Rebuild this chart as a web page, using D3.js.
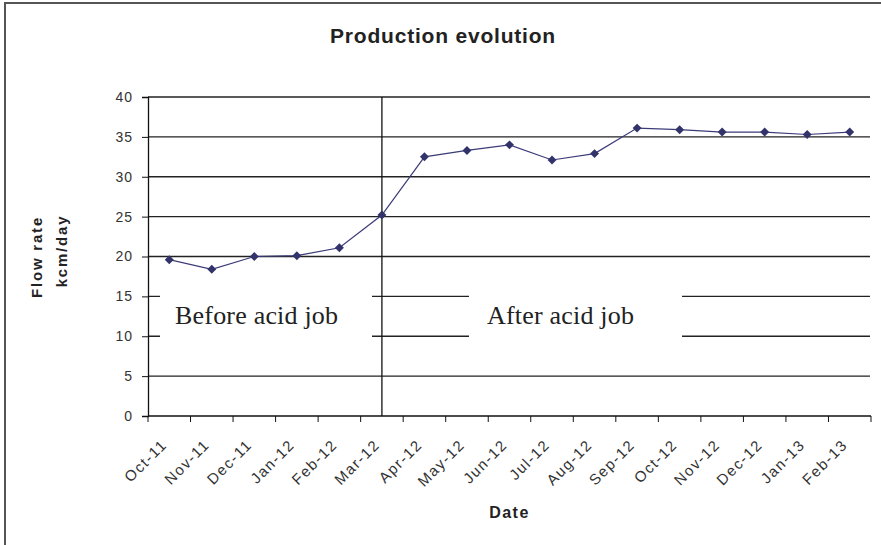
<!DOCTYPE html>
<html lang="en">
<head>
<meta charset="UTF-8">
<title>Production evolution</title>
<script src="https://cdn.jsdelivr.net/npm/d3@7"></script>
<style>
    body { margin: 0; background: #fff; }
    svg { display: block; }
</style>
</head>
<body>
<div id="chart"></div>
<script>
    // data
    const months = ["Oct-11", "Nov-11", "Dec-11", "Jan-12", "Feb-12", "Mar-12", "Apr-12", "May-12", "Jun-12",
        "Jul-12", "Aug-12", "Sep-12", "Oct-12", "Nov-12", "Dec-12", "Jan-13", "Feb-13"];
    const flowRate = [19.6, 18.4, 20.0, 20.1, 21.1, 25.2, 32.5, 33.3, 34.0, 32.1, 32.9, 36.1, 35.9, 35.6, 35.6, 35.3, 35.6];
    const yTicks = [0, 5, 10, 15, 20, 25, 30, 35, 40];
    const acidJobMonth = "Mar-12";
    const noteTexts = ["Before acid job", "After acid job"];

    const W = 881, H = 545;
    const plotLeft = 148, plotRight = 871, plotTop = 97, plotBottom = 416;

    const svg = d3.select("#chart").append("svg").attr("width", W).attr("height", H);

    // outer frame (only left and top edges show)
    svg.append("rect")
        .attr("x", 5).attr("y", 3).attr("width", W).attr("height", H)
        .attr("fill", "#fff").attr("stroke", "#555").attr("stroke-width", 2);

    const x = d3.scaleBand().domain(months).range([plotLeft, plotRight]);
    const y = d3.scaleLinear().domain([0, 40]).range([plotBottom, plotTop]);
    const cx = m => x(m) + x.bandwidth() / 2;

    // horizontal gridlines
    svg.append("g").selectAll("line")
        .data(yTicks.filter(t => t > 0))
        .join("line")
        .attr("x1", plotLeft).attr("x2", plotRight - 1)
        .attr("y1", d => y(d)).attr("y2", d => y(d))
        .attr("stroke", "#222").attr("stroke-width", 1.3);

    // white label boxes covering the gridlines
    const notes = [
        {text: noteTexts[0], x0: 160, x1: 372, tx: 175},
        {text: noteTexts[1], x0: 469, x1: 682, tx: 487}
    ];
    const noteG = svg.append("g");
    noteG.selectAll("rect").data(notes).join("rect")
        .attr("x", d => d.x0).attr("width", d => d.x1 - d.x0)
        .attr("y", y(16.5)).attr("height", y(8.5) - y(16.5))
        .attr("fill", "#fff");
    noteG.selectAll("text").data(notes).join("text")
        .attr("x", d => d.tx).attr("y", 324)
        .attr("font-family", "'Liberation Serif', 'Times New Roman', serif")
        .attr("font-size", 26).attr("letter-spacing", 0.2).attr("fill", "#222")
        .text(d => d.text);

    // acid job marker line
    svg.append("line")
        .attr("x1", cx(acidJobMonth)).attr("x2", cx(acidJobMonth))
        .attr("y1", y(40)).attr("y2", y(0))
        .attr("stroke", "#111").attr("stroke-width", 1.3);

    // y axis
    const yAxis = svg.append("g").attr("transform", `translate(${plotLeft},0)`)
        .call(d3.axisLeft(y).tickValues(yTicks).tickSize(6).tickPadding(9));
    yAxis.select(".domain").attr("stroke", "#111").attr("stroke-width", 1.3);
    yAxis.selectAll(".tick line").attr("stroke", "#111");
    yAxis.selectAll("text")
        .attr("font-family", "'Liberation Sans', Arial, sans-serif")
        .attr("font-size", 14).attr("letter-spacing", 1).attr("fill", "#333");

    // x axis: ticks on band edges, labels at centres
    const xAxis = svg.append("g").attr("transform", `translate(0,${plotBottom})`);
    xAxis.append("line").attr("x1", plotLeft).attr("x2", plotRight)
        .attr("stroke", "#111").attr("stroke-width", 1.3);
    xAxis.selectAll("line.edge").data(months.concat(["end"])).join("line")
        .attr("class", "edge")
        .attr("x1", d => d === "end" ? plotRight : x(d)).attr("x2", d => d === "end" ? plotRight : x(d))
        .attr("y1", 0).attr("y2", 6)
        .attr("stroke", "#111");
    xAxis.selectAll("text").data(months).join("text")
        .attr("transform", d => `translate(${cx(d) - 5},${26}) rotate(-45)`)
        .attr("text-anchor", "end").attr("dy", "0.35em")
        .attr("font-family", "'Liberation Sans', Arial, sans-serif")
        .attr("font-size", 15).attr("letter-spacing", 1.5).attr("fill", "#333")
        .text(d => d);

    // series
    const pts = months.map((m, i) => ({month: m, value: flowRate[i]}));
    svg.append("path")
        .datum(pts)
        .attr("fill", "none").attr("stroke", "#3b3b78").attr("stroke-width", 1.2)
        .attr("d", d3.line().x(d => cx(d.month)).y(d => y(d.value)));
    svg.append("g").selectAll("path").data(pts).join("path")
        .attr("transform", d => `translate(${cx(d.month)},${y(d.value)}) rotate(45)`)
        .attr("d", d3.symbol(d3.symbolSquare, 40))
        .attr("fill", "#33336b");

    // titles
    svg.append("text")
        .attr("x", 443).attr("y", 43).attr("text-anchor", "middle")
        .attr("font-family", "'Liberation Sans', Arial, sans-serif")
        .attr("font-size", 21).attr("font-weight", "bold").attr("letter-spacing", 0.8).attr("fill", "#222")
        .text("Production evolution");
    svg.append("text")
        .attr("x", (plotLeft + plotRight) / 2).attr("y", 518).attr("text-anchor", "middle")
        .attr("font-family", "'Liberation Sans', Arial, sans-serif")
        .attr("font-size", 16).attr("font-weight", "bold").attr("letter-spacing", 1.5).attr("fill", "#222")
        .text("Date");
    const yTitle = [{t: "Flow rate", bx: 42, cy: 257}, {t: "kcm/day", bx: 67, cy: 251}];
    svg.append("g").selectAll("text").data(yTitle).join("text")
        .attr("transform", d => `translate(${d.bx},${d.cy}) rotate(-90)`)
        .attr("text-anchor", "middle")
        .attr("font-family", "'Liberation Sans', Arial, sans-serif")
        .attr("font-size", 15).attr("font-weight", "bold").attr("letter-spacing", 1.8).attr("fill", "#222")
        .text(d => d.t);
</script>
</body>
</html>
